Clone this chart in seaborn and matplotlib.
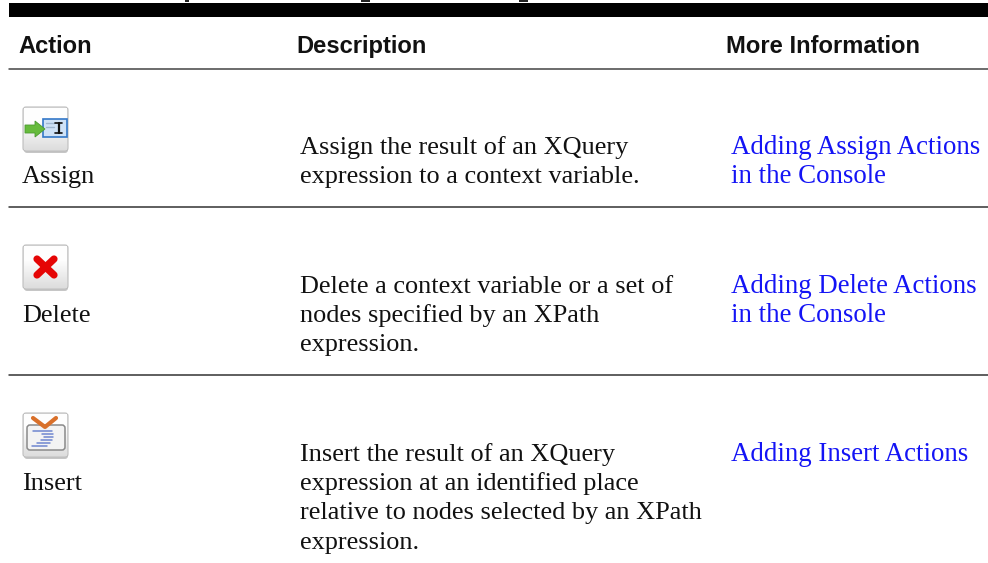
import matplotlib
matplotlib.use("Agg")
import matplotlib.pyplot as plt
import seaborn as sns
import pandas as pd
from matplotlib.patches import FancyBboxPatch, Polygon, Rectangle

headers = ["Action", "Description", "More Information"]
actions = ["Assign", "Delete", "Insert"]
descriptions = [
    ["Assign the result of an XQuery", "expression to a context variable."],
    ["Delete a context variable or a set of", "nodes specified by an XPath", "expression."],
    ["Insert the result of an XQuery", "expression at an identified place",
     "relative to nodes selected by an XPath", "expression."],
]
links = [
    ["Adding Assign Actions", "in the Console"],
    ["Adding Delete Actions", "in the Console"],
    ["Adding Insert Actions"],
]

sns.set_theme(style="white")
plt.rcParams['font.family'] = ['Liberation Serif', 'DejaVu Serif']

fig = plt.figure(figsize=(9.88, 5.63), dpi=100)
ax = fig.add_axes([0, 0, 1, 1])

# table rules
for y, c in [(68.5, "#444444"), (206.5, "#333333"), (374.5, "#333333")]:
    rule = pd.DataFrame({"x": [9, 988], "y": [y, y]})
    sns.lineplot(data=rule, x="x", y="y", ax=ax, color=c, linewidth=1.1, legend=False)

ax.set_xlim(0, 988)
ax.set_ylim(563, 0)
ax.axis("off")

# header bar and the descenders of the cut off caption
ax.add_patch(Rectangle((9, 3), 979, 14, color="black", lw=0))
for x0, w in [(185, 4), (361, 9), (519, 9)]:
    ax.add_patch(Rectangle((x0, 0), w, 1.5, color="#222222", lw=0))

for h, x in zip(headers, [18, 296, 726]):
    ax.text(x, 53, h, family="Liberation Sans", weight="bold", fontsize=17.1, color="#111111", va="baseline")

icon_tops = [107, 245, 413]
label_base = [183, 322, 490]
desc_base = [154, 293, 461]
link_base = [154, 293, 461]
line_h = 29.2
body = 18.9
link_size = 19.4


def button(top):
    ax.add_patch(FancyBboxPatch((24, top + 2), 44, 44, boxstyle="round,pad=0,rounding_size=3",
                                fc="#8f8f8f", ec="none", alpha=0.5))
    ax.add_patch(FancyBboxPatch((23, top), 45, 44, boxstyle="round,pad=0,rounding_size=3",
                                fc="#e2e2e2", ec="#bdbdbd", lw=0.8))
    # soft white to grey shading of the button face
    for row in range(1, 43):
        level = 0.995 - 0.13 * max(0, row - 14) / 28
        ax.add_patch(Rectangle((24, top + row), 43, 1, fc=(level, level, level), ec="none"))


for top in icon_tops:
    button(top)

# assign icon
t = icon_tops[0]
ax.add_patch(Rectangle((43, t + 12), 24, 18, fc="#cfe2f7", ec="#3478c8", lw=1.2))
ax.plot([46, 54], [t + 16, t + 16], color="#9fb6d0", lw=1)
ax.plot([46, 54], [t + 20, t + 20], color="#9fb6d0", lw=1)
ax.plot([55, 62], [t + 16, t + 16], color="#111111", lw=1.2)
ax.plot([55, 62], [t + 26, t + 26], color="#111111", lw=1.2)
ax.plot([58.5, 58.5], [t + 16, t + 26], color="#111111", lw=1.6)
ax.add_patch(Polygon([(25, t + 18), (35, t + 18), (35, t + 14), (45, t + 22),
                      (35, t + 30), (35, t + 26), (25, t + 26)],
                     fc="#66bb3c", ec="#4a9a30", lw=0.6))

# delete icon
t = icon_tops[1]
ax.plot([37, 54], [t + 14, t + 30], color="#e50505", lw=5.2, solid_capstyle="round")
ax.plot([54, 37], [t + 14, t + 30], color="#e50505", lw=5.2, solid_capstyle="round")

# insert icon
t = icon_tops[2]
ax.add_patch(FancyBboxPatch((27, t + 12), 38, 25, boxstyle="round,pad=0,rounding_size=3",
                            fc="#f3f3f3", ec="#8a8a8a", lw=1.1))
ax.plot([33, 45, 56], [t + 5, t + 14, t + 5], color="#d9702a", lw=3, solid_capstyle="round")
for dy, x0, x1 in [(18, 33, 52), (21, 42, 53), (24, 44, 53), (27, 41, 52), (30, 37, 50), (33, 32, 47)]:
    ax.plot([x0, x1], [t + dy, t + dy], color="#6f86cf", lw=1.1)

for i, name in enumerate(actions):
    ax.text(22, label_base[i], name, fontsize=body, color="#111111", va="baseline")
    for j, line in enumerate(descriptions[i]):
        ax.text(300, desc_base[i] + j * line_h, line, fontsize=body, color="#111111", va="baseline")
    for j, line in enumerate(links[i]):
        ax.text(731, link_base[i] + j * line_h, line, fontsize=link_size, color="#1414f5", va="baseline")

plt.savefig("out.png", dpi=100)
